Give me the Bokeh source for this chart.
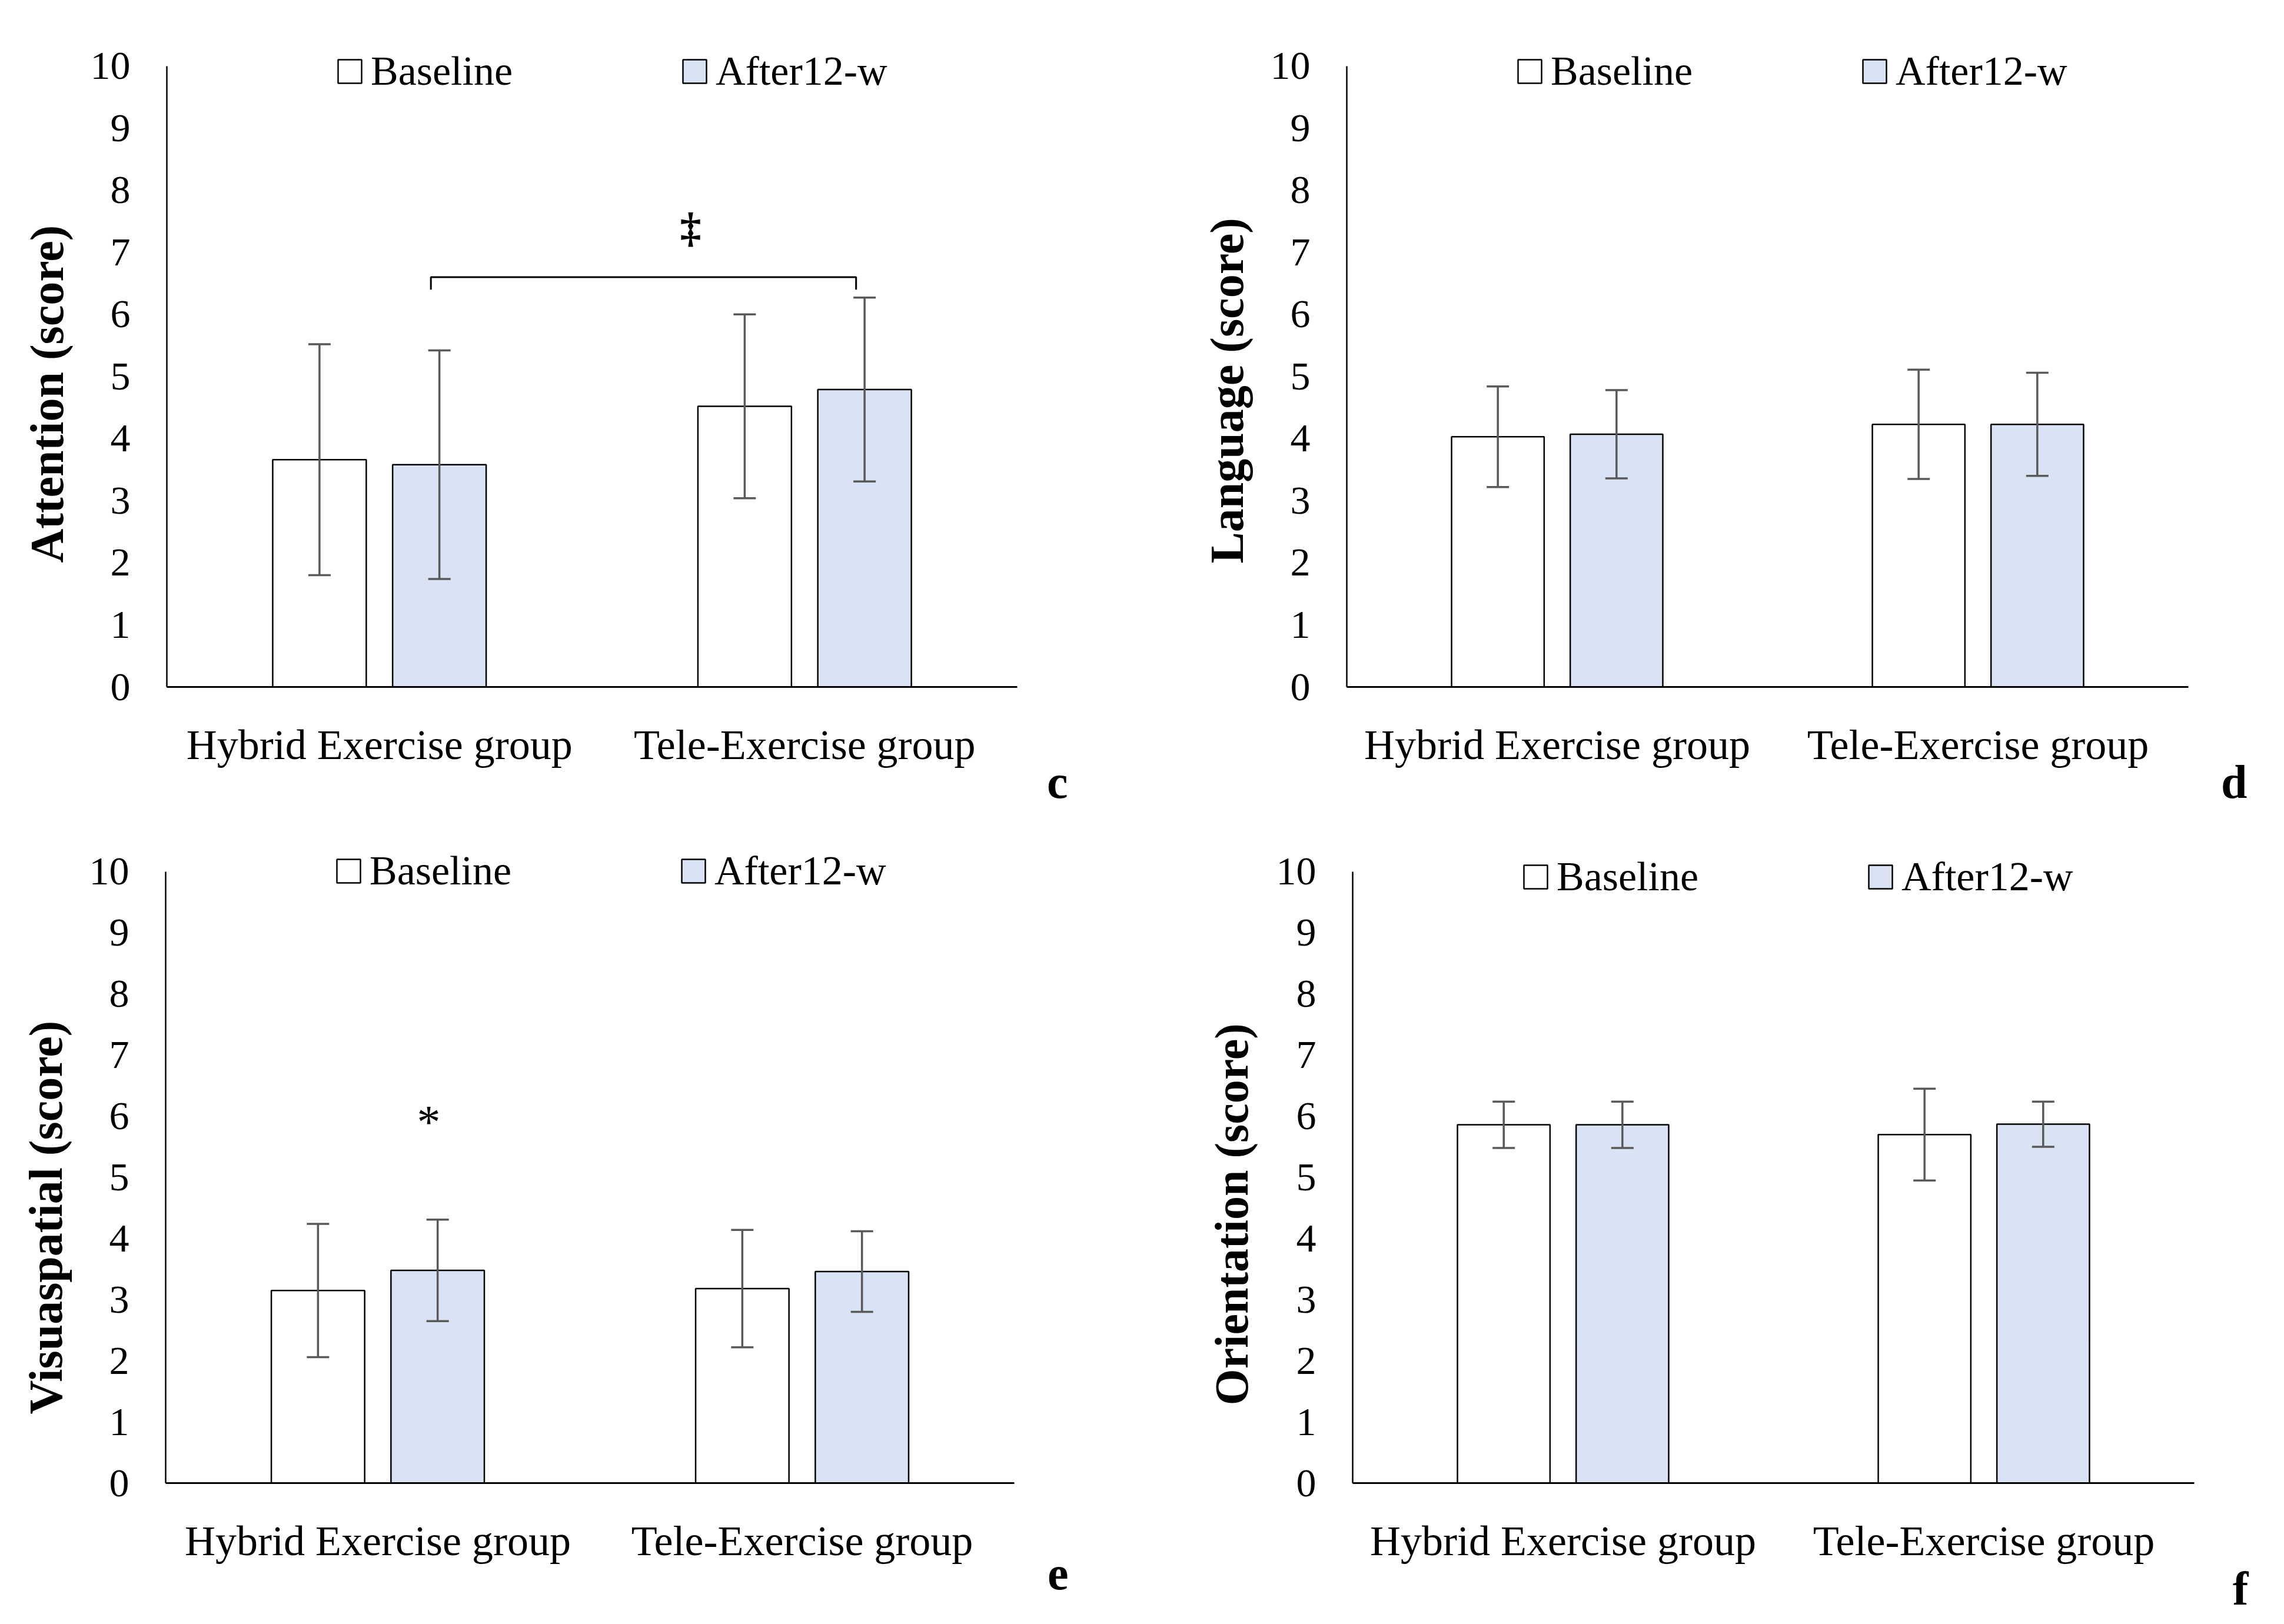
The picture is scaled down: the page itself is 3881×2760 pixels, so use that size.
from bokeh.plotting import figure
from bokeh.layouts import column, row
from bokeh.models import (ColumnDataSource, Whisker, TeeHead, Legend, LegendItem,
                          Title, FixedTicker)
from bokeh.core.properties import value
from bokeh.embed import file_html
from bokeh.resources import INLINE

# ---------------- data ----------------
groups = ["Hybrid Exercise group", "Tele-Exercise group"]
series = ["Baseline", "After12-w"]

attention_mean_base = [3.66, 4.52]
attention_sd_base = [1.86, 1.48]
attention_mean_after = [3.58, 4.79]
attention_sd_after = [1.84, 1.48]

language_mean_base = [4.03, 4.23]
language_sd_base = [0.81, 0.88]
language_mean_after = [4.07, 4.23]
language_sd_after = [0.71, 0.83]

visuo_mean_base = [3.15, 3.18]
visuo_sd_base = [1.09, 0.96]
visuo_mean_after = [3.48, 3.46]
visuo_sd_after = [0.83, 0.66]

orient_mean_base = [5.86, 5.70]
orient_sd_base = [0.38, 0.75]
orient_mean_after = [5.86, 5.87]
orient_sd_after = [0.38, 0.37]

y_ticks = [0, 1, 2, 3, 4, 5, 6, 7, 8, 9, 10]

FONT = "Liberation Serif"
BLUE = "#DAE3F3"
ERR = "#595959"

W, H = 1932, 1372
BAR_W = 0.22
OFF = 0.141
YTOP = 10.5


def panel(ylabel, letter, mb, sb, ma, sa, borders, ylab_offset,
          letter_offset=-92, letter_standoff=-50, ylab_standoff=51):
    left, right, top, bottom = borders
    p = figure(width=W, height=H, x_range=(0, 2), y_range=(0, YTOP),
               output_backend="svg", toolbar_location=None,
               min_border_left=left, min_border_right=right,
               min_border_top=top, min_border_bottom=bottom)
    p.outline_line_color = None
    p.grid.visible = False
    p.background_fill_color = "white"
    frame_h = H - top - bottom
    unit = frame_h / YTOP

    centers = [i + 0.5 for i in range(len(groups))]
    xb = [c - OFF for c in centers]
    xa = [c + OFF for c in centers]
    src_b = ColumnDataSource(dict(x=xb, top=mb,
                                  lo=[m - s for m, s in zip(mb, sb)],
                                  hi=[m + s for m, s in zip(mb, sb)]))
    src_a = ColumnDataSource(dict(x=xa, top=ma,
                                  lo=[m - s for m, s in zip(ma, sa)],
                                  hi=[m + s for m, s in zip(ma, sa)]))
    rb = p.vbar(x="x", top="top", bottom=0, width=BAR_W, source=src_b,
                fill_color="white", line_color="black", line_width=2.5)
    ra = p.vbar(x="x", top="top", bottom=0, width=BAR_W, source=src_a,
                fill_color=BLUE, line_color="black", line_width=2.5)
    for src in (src_b, src_a):
        w = Whisker(base="x", upper="hi", lower="lo", source=src, level="annotation",
                    line_color=ERR, line_width=3.5,
                    upper_head=TeeHead(size=38, line_color=ERR, line_width=3.5),
                    lower_head=TeeHead(size=38, line_color=ERR, line_width=3.5))
        p.add_layout(w)

    # axes
    p.yaxis.ticker = FixedTicker(ticks=y_ticks)
    p.yaxis.bounds = (0, 10)
    p.yaxis.major_label_text_font = FONT
    p.yaxis.major_label_text_font_size = "68px"
    p.yaxis.major_label_text_color = "black"
    p.yaxis.major_label_standoff = 62
    p.yaxis.major_tick_line_color = None
    p.yaxis.major_tick_out = 0
    p.yaxis.major_tick_in = 0
    p.yaxis.minor_tick_line_color = None
    p.yaxis.minor_tick_out = 0
    p.yaxis.axis_line_color = "black"
    p.yaxis.axis_line_width = 2.5

    p.xaxis.ticker = FixedTicker(ticks=centers)
    p.xaxis.major_label_overrides = {c: g for c, g in zip(centers, groups)}
    p.xaxis.major_label_text_font = FONT
    p.xaxis.major_label_text_font_size = "72px"
    p.xaxis.major_label_text_color = "black"
    p.xaxis.major_label_standoff = 52
    p.xaxis.major_tick_line_color = None
    p.xaxis.minor_tick_line_color = None
    p.xaxis.axis_line_color = "black"
    p.xaxis.axis_line_width = 3

    # y label (as a left title so it can sit where the original has it)
    yt = Title(text=ylabel, align="left", offset=ylab_offset, standoff=ylab_standoff,
               vertical_align="middle",
               text_font=FONT, text_font_style="bold", text_font_size="80px",
               text_color="black")
    p.add_layout(yt, "left")

    # legend (centred on the 10 line)
    legend = Legend(items=[LegendItem(label=series[0], renderers=[rb]),
                           LegendItem(label=series[1], renderers=[ra])],
                    orientation="horizontal",
                    location=(286, int(10 * unit - 49)),
                    glyph_width=50, glyph_height=50, label_standoff=11,
                    spacing=284, padding=0, margin=0,
                    label_text_font=FONT, label_text_font_size="70px",
                    label_text_color="black",
                    border_line_color=None, background_fill_alpha=0)
    p.add_layout(legend, "center")

    # panel letter
    t = Title(text=letter, align="right", offset=letter_offset, standoff=letter_standoff,
              vertical_align="middle",
              text_font=FONT, text_font_style="bold", text_font_size="80px",
              text_color="black")
    p.add_layout(t, "below")
    return p, centers


p1, c1 = panel("Attention (score)", "c", attention_mean_base, attention_sd_base,
               attention_mean_after, attention_sd_after, (283, 204, 59, 205), 211,
               letter_offset=-86)
# significance bracket between groups (after bars)
bl = c1[0] + OFF - 0.02
br = c1[1] + OFF - 0.02
p1.line(x=[bl, bl, br, br], y=[6.4, 6.6, 6.6, 6.4], line_color="black", line_width=3)
p1.text(x=[1.232], y=[7.4], text=["‡"], text_font=value(FONT), text_font_style="bold",
        text_font_size="72px", text_align="center", text_baseline="middle")

p2, c2 = panel("Language (score)", "d", language_mean_base, language_sd_base,
               language_mean_after, language_sd_after, (356, 146, 59, 205), 210,
               letter_offset=-100)

p3, c3 = panel("Visuaspatial (score)", "e", visuo_mean_base, visuo_sd_base,
               visuo_mean_after, visuo_sd_after, (281, 209, 56, 214), 117,
               letter_standoff=-30)
p3.text(x=[0.62], y=[5.9], text=["*"], text_font=value(FONT),
        text_font_size="80px", text_align="center", text_baseline="middle")

p4, c4 = panel("Orientation (score)", "f", orient_mean_base, orient_sd_base,
               orient_mean_after, orient_sd_after, (366, 136, 57, 224), 132,
               letter_standoff=-14, ylab_standoff=56)

layout = column(row(p1, p2), row(p3, p4))
open("out.html", "w").write(file_html(layout, INLINE))
